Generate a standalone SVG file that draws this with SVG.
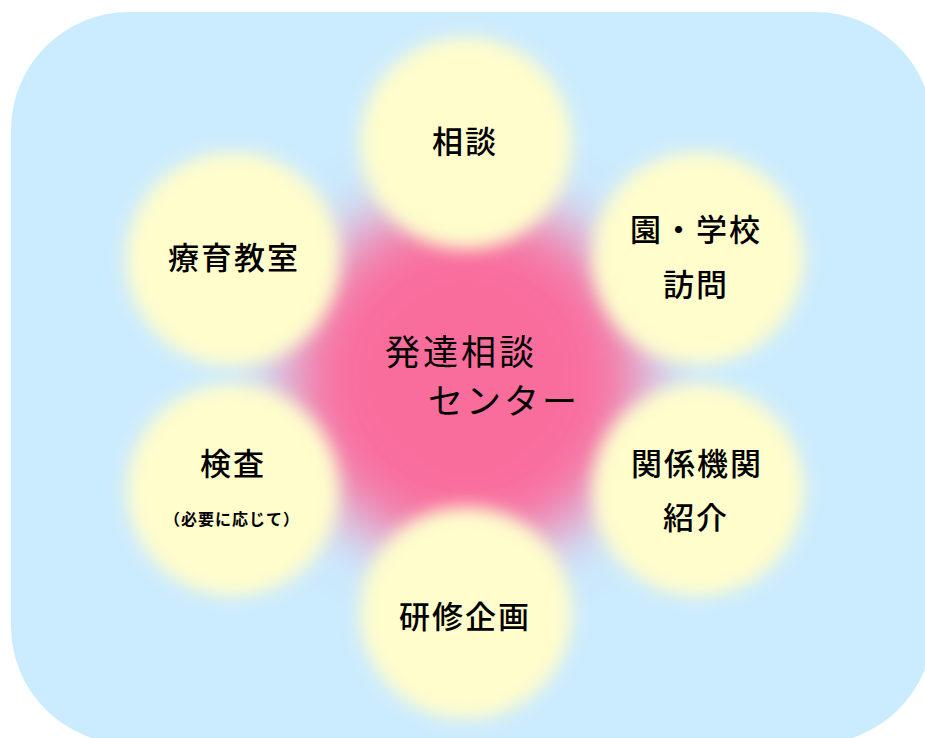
<svg xmlns="http://www.w3.org/2000/svg" width="925" height="738" viewBox="0 0 925 738">
  <style>
    .lbl { font-family: "Noto Sans CJK JP", "Noto Sans", sans-serif; font-size: 31px; font-weight: 500; fill: #000; text-anchor: middle; dominant-baseline: central; letter-spacing: 2px; }
    .small { font-size: 16px; font-weight: 700; letter-spacing: 1px; }
    .big { font-size: 35px; font-weight: 400; letter-spacing: 3px; }
    .circ { fill: #fffdcc; filter: url(#soft); }
  </style>
  <defs>
    <filter id="soft" x="-30%" y="-30%" width="160%" height="160%">
      <feGaussianBlur stdDeviation="9"/>
    </filter>
    <filter id="pinkblur" x="-50%" y="-50%" width="200%" height="200%">
      <feGaussianBlur stdDeviation="32"/>
    </filter>
  </defs>
  <rect x="11" y="12" width="922" height="732" rx="118" ry="118" fill="#cbebfe"/>
  <g id="center">
    <circle cx="466" cy="378" r="178" fill="#f96d9d" filter="url(#pinkblur)"/>
    <text class="lbl big" x="461" y="349">発達相談</text>
    <text class="lbl big" x="504" y="398">センター</text>
  </g>
  <g id="soudan">
    <circle class="circ" cx="466" cy="143" r="106"/>
    <text class="lbl" x="465" y="139">相談</text>
  </g>
  <g id="houmon">
    <circle class="circ" cx="698" cy="258" r="106"/>
    <text class="lbl" x="696" y="227">園・学校</text>
    <text class="lbl" x="696" y="282">訪問</text>
  </g>
  <g id="shoukai">
    <circle class="circ" cx="698" cy="490" r="106"/>
    <text class="lbl" x="697" y="461">関係機関</text>
    <text class="lbl" x="696" y="515">紹介</text>
  </g>
  <g id="kenshu">
    <circle class="circ" cx="466" cy="613" r="106"/>
    <text class="lbl" x="465" y="614">研修企画</text>
  </g>
  <g id="kensa">
    <circle class="circ" cx="233" cy="490" r="106"/>
    <text class="lbl" x="233" y="461">検査</text>
    <text class="lbl small" x="232" y="518">（必要に応じて）</text>
  </g>
  <g id="ryouiku">
    <circle class="circ" cx="233" cy="259" r="107"/>
    <text class="lbl" x="234" y="255">療育教室</text>
  </g>
  <g id="connectors"></g>
</svg>
